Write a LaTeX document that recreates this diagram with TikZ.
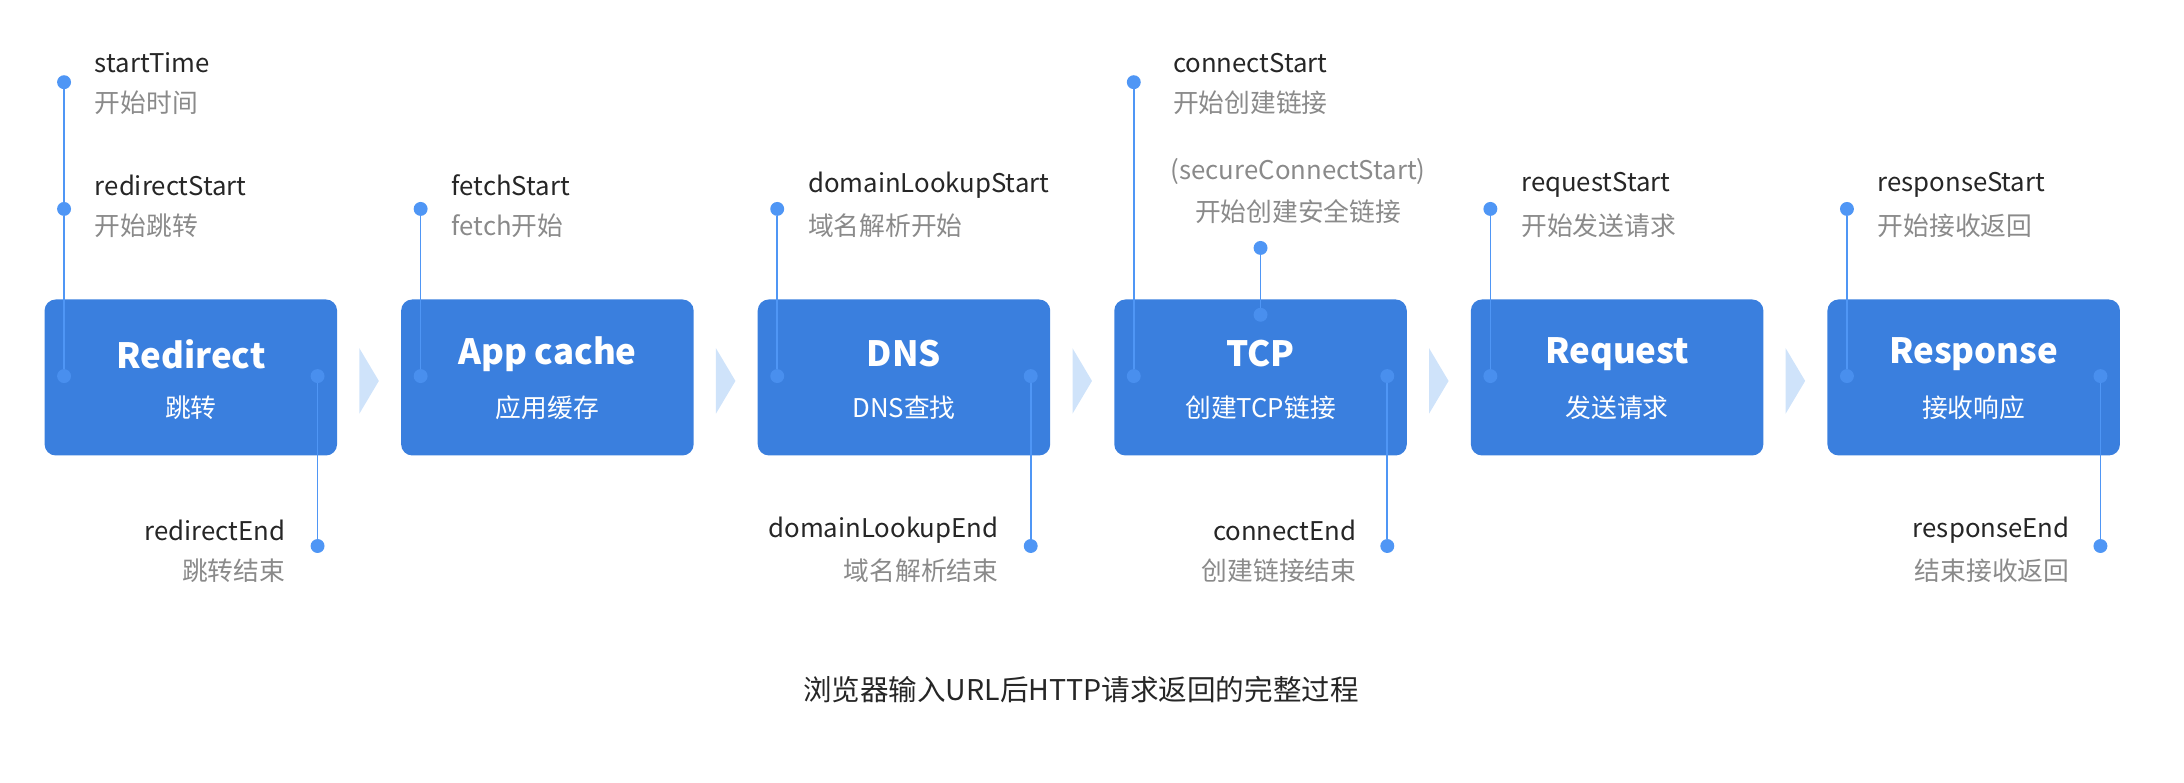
\documentclass[tikz,border=0pt]{standalone}
\usepackage{fontspec}
\setmainfont{Noto Sans CJK SC}
\begin{document}
\definecolor{boxc}{HTML}{3A7FDE}
\definecolor{dotc}{HTML}{4F96F5}
\definecolor{chev}{HTML}{CFE3FA}
\definecolor{sub}{HTML}{8A8A8A}
\begin{tikzpicture}[x=1pt,y=-1pt,
  box/.style={draw=none,fill=boxc,rounded corners=8pt,minimum width=210pt,minimum height=112pt,inner sep=0},
  dot/.style={circle,fill=dotc,minimum size=10pt,inner sep=0},
  idot/.style={circle,fill=dotc!70!boxc,minimum size=10pt,inner sep=0},
  ln/.style={dotc,line width=1.2pt},
  lab/.style={font=\fontsize{18.5}{22}\selectfont,text=black!85,inner sep=0},
  slab/.style={font=\fontsize{18.5}{22}\selectfont,text=sub,inner sep=0},
  ttl/.style={font=\fontsize{25}{29}\selectfont\bfseries,text=white},
  stl/.style={font=\fontsize{18.5}{22}\selectfont,text=white}]
\useasboundingbox (0,0) rectangle (1568,562);
\foreach \i/\t/\s in {0/Redirect/跳转,1/App cache/应用缓存,2/DNS/DNS查找,3/TCP/创建TCP链接,4/Request/发送请求,5/Response/接收响应}{
  \node[box] (b\i) at (137+256*\i,271) {};
  \node[ttl] (t\i) at (137+256*\i,254) {\t};
  \node[stl] (s\i) at (137+256*\i,293) {\s};
}
\foreach \i in {0,...,4}{
  \fill[chev] (258+256*\i,250) coordinate (c\i) -- (272+256*\i,273.5) -- (258+256*\i,297) -- cycle;
}
\foreach \i in {0,...,5}{ \node[idot] (l\i) at (46+256*\i,270) {}; }
\foreach \i in {0,2,3,5}{ \node[idot] (r\i) at (228+256*\i,270) {}; }
\node[dot] (st) at (46,59) {};
\node[dot] (rs) at (46,150) {};
\node[dot] (fs) at (302,150) {};
\node[dot] (ds) at (558,150) {};
\node[dot] (cs) at (814,59) {};
\node[dot] (ss) at (905,178) {};
\node[idot] (si) at (905,226) {};
\node[dot] (qs) at (1070,150) {};
\node[dot] (ps) at (1326,150) {};
\node[dot] (re) at (228,392) {};
\node[dot] (de) at (740,392) {};
\node[dot] (ce) at (996,392) {};
\node[dot] (pe) at (1508,392) {};
\draw[ln] (st)--(rs)--(l0); \draw[ln] (fs)--(l1); \draw[ln] (ds)--(l2);
\draw[ln] (cs)--(l3); \draw[ln] (ss)--(si); \draw[ln] (qs)--(l4); \draw[ln] (ps)--(l5);
\draw[ln] (r0)--(re); \draw[ln] (r2)--(de); \draw[ln] (r3)--(ce); \draw[ln] (r5)--(pe);
\foreach \n/\x/\y/\a/\b in {a/68/45/startTime/开始时间, b/68/133/redirectStart/开始跳转, c/324/133/fetchStart/fetch开始, d/580/133/domainLookupStart/域名解析开始, e/842/45/connectStart/开始创建链接, f/1092/133/requestStart/开始发送请求, g/1348/133/responseStart/开始接收返回}{
  \node[lab,anchor=west] (la\n) at (\x,\y) {\a};
  \node[slab,anchor=west] (lb\n) at (\x,\y+29) {\b};
}
\node[slab] (lsa) at (932,123) {(secureConnectStart)};
\node[slab] (lsb) at (932,152) {开始创建安全链接};
\foreach \n/\x/\a/\b in {h/205/redirectEnd/跳转结束, i/717/domainLookupEnd/域名解析结束, j/974/connectEnd/创建链接结束, k/1486/responseEnd/结束接收返回}{
  \node[lab,anchor=east] (la\n) at (\x,381) {\a};
  \node[slab,anchor=east] (lb\n) at (\x,410) {\b};
}
\node[font=\fontsize{20.5}{24}\selectfont,text=black!85] (cap) at (776,495) {浏览器输入URL后HTTP请求返回的完整过程};
\end{tikzpicture}
\end{document}
